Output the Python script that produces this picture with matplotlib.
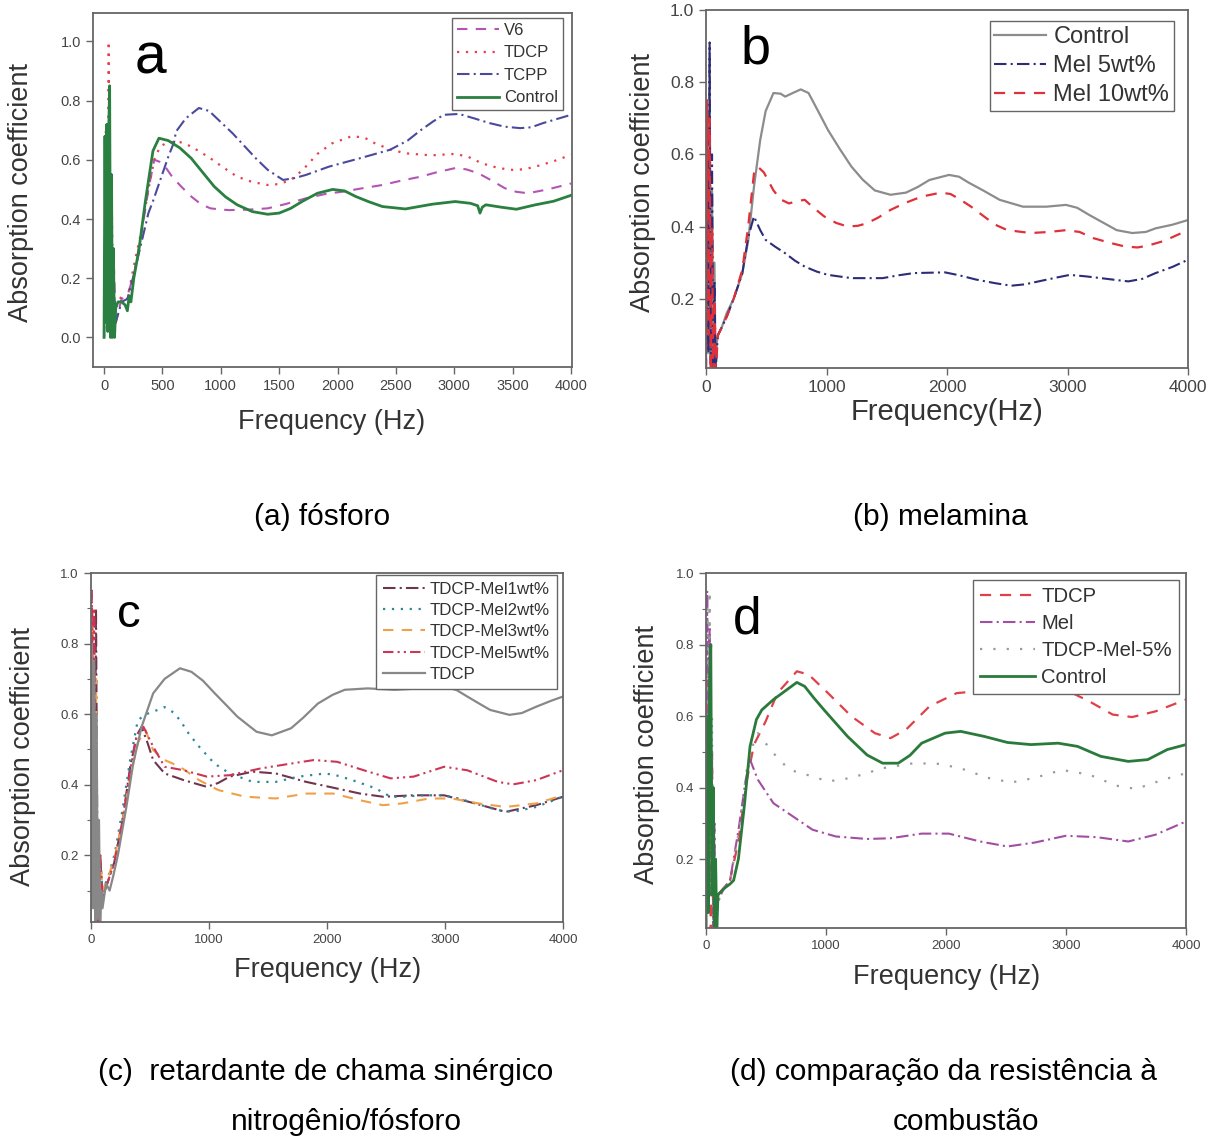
import numpy as np
import matplotlib
matplotlib.use('Agg')
import matplotlib.pyplot as plt
from matplotlib.ticker import MultipleLocator

plt.rcParams['font.family'] = ['Liberation Sans', 'DejaVu Sans']

W, H = 1221, 1138

#%% panel a - phosphorus flame retardants
a_v6_f = [0, 15, 30, 45, 60, 80, 100, 150, 200, 260, 320, 380, 430, 500, 583, 660, 747, 830, 911,
          1000, 1075, 1250, 1402, 1550, 1730, 1900, 2057, 2200, 2385, 2550, 2712, 2850, 3007, 3100,
          3204, 3320, 3433, 3530, 3630, 3800, 4000]
a_v6_y = [0.0, 0.6, 0.1, 0.75, 0.0, 0.3, 0.05, 0.13, 0.14, 0.22, 0.35, 0.5, 0.6, 0.59, 0.543, 0.51,
          0.476, 0.45, 0.436, 0.432, 0.43, 0.432, 0.436, 0.45, 0.47, 0.485, 0.493, 0.503, 0.515,
          0.53, 0.543, 0.558, 0.572, 0.568, 0.555, 0.53, 0.504, 0.492, 0.487, 0.5, 0.52]

a_tdcp_f = [0, 15, 30, 40, 50, 65, 80, 100, 150, 200, 260, 320, 380, 430, 480, 550, 650, 747, 830,
            911, 1000, 1140, 1270, 1402, 1500, 1599, 1700, 1828, 1950, 2123, 2230, 2319, 2450, 2581,
            2800, 3007, 3120, 3237, 3380, 3499, 3600, 3695, 3850, 4000]
a_tdcp_y = [0.0, 0.7, 0.2, 1.0, 0.1, 0.5, 0.0, 0.1, 0.14, 0.13, 0.25, 0.36, 0.5, 0.6, 0.645, 0.66,
            0.66, 0.645, 0.625, 0.605, 0.58, 0.543, 0.525, 0.515, 0.518, 0.532, 0.565, 0.62, 0.655,
            0.68, 0.675, 0.656, 0.635, 0.622, 0.615, 0.62, 0.61, 0.588, 0.572, 0.566, 0.568, 0.577,
            0.595, 0.617]

a_tcpp_f = [0, 15, 30, 45, 60, 80, 100, 150, 200, 260, 320, 380, 419, 480, 550, 600, 616, 700, 812,
            900, 1009, 1100, 1206, 1300, 1402, 1533, 1630, 1730, 1927, 2189, 2450, 2600, 2712, 2820,
            2909, 3040, 3170, 3302, 3430, 3564, 3660, 3760, 3880, 4000]
a_tcpp_y = [0.0, 0.5, 0.05, 0.85, 0.0, 0.2, 0.05, 0.12, 0.13, 0.22, 0.32, 0.42, 0.46, 0.53, 0.61,
            0.66, 0.695, 0.74, 0.775, 0.765, 0.724, 0.69, 0.645, 0.605, 0.566, 0.532, 0.538, 0.549,
            0.577, 0.605, 0.634, 0.665, 0.70, 0.73, 0.752, 0.755, 0.74, 0.724, 0.712, 0.707, 0.71,
            0.724, 0.738, 0.752]

a_ctrl_f = [0, 8, 16, 24, 32, 40, 48, 56, 64, 72, 80, 90, 100, 120, 150, 180, 200, 215, 230, 255,
            300, 354, 419, 470, 550, 650, 747, 850, 943, 1040, 1140, 1270, 1402, 1500, 1599, 1700,
            1828, 1959, 2060, 2156, 2270, 2385, 2581, 2810, 3007, 3138, 3200, 3220, 3240, 3270, 3400,
            3532, 3695, 3850, 4000]
a_ctrl_y = [0.0, 0.68, 0.05, 0.72, 0.02, 0.7, 0.85, 0.0, 0.55, 0.0, 0.3, 0.0, 0.1, 0.12, 0.12,
            0.11, 0.09, 0.14, 0.12, 0.2, 0.3, 0.46, 0.63, 0.673, 0.665, 0.64, 0.605, 0.555, 0.51,
            0.475, 0.448, 0.425, 0.416, 0.42, 0.436, 0.46, 0.487, 0.50, 0.495, 0.476, 0.458, 0.442,
            0.434, 0.45, 0.459, 0.453, 0.445, 0.42, 0.44, 0.448, 0.44, 0.433, 0.448, 0.46, 0.48]

#%% panel b - melamine
b_ctrl_f = [0, 10, 20, 30, 40, 50, 60, 70, 80, 90, 100, 130, 172, 230, 301, 350, 398, 450, 495, 560,
            620, 657, 720, 786, 851, 930, 1013, 1110, 1207, 1300, 1401, 1531, 1660, 1760, 1854, 2016,
            2100, 2178, 2300, 2437, 2631, 2825, 2987, 3080, 3181, 3300, 3408, 3537, 3650, 3731, 3870,
            4000]
b_ctrl_y = [0.0, 0.6, 0.05, 0.88, 0.02, 0.5, 0.0, 0.3, 0.0, 0.08, 0.1, 0.12, 0.16, 0.2, 0.27, 0.36,
            0.51, 0.64, 0.72, 0.77, 0.768, 0.76, 0.77, 0.78, 0.77, 0.72, 0.667, 0.615, 0.566, 0.53,
            0.50, 0.488, 0.494, 0.51, 0.529, 0.543, 0.538, 0.522, 0.50, 0.474, 0.455, 0.455, 0.46,
            0.452, 0.432, 0.41, 0.39, 0.382, 0.385, 0.395, 0.405, 0.418]

b_mel5_f = [0, 10, 20, 30, 40, 50, 60, 70, 80, 90, 100, 130, 172, 230, 301, 350, 398, 450, 495, 570,
            657, 740, 819, 920, 1013, 1207, 1466, 1600, 1725, 1983, 2100, 2242, 2400, 2533, 2650,
            2760, 2900, 3019, 3150, 3278, 3400, 3505, 3620, 3731, 3870, 4000]
b_mel5_y = [0.0, 0.5, 0.05, 0.91, 0.0, 0.6, 0.0, 0.25, 0.0, 0.06, 0.1, 0.12, 0.15, 0.2, 0.27, 0.37,
            0.428, 0.39, 0.363, 0.345, 0.326, 0.305, 0.289, 0.275, 0.266, 0.257, 0.257, 0.265, 0.271,
            0.273, 0.265, 0.253, 0.243, 0.236, 0.24, 0.248, 0.258, 0.266, 0.262, 0.257, 0.252,
            0.248, 0.255, 0.271, 0.288, 0.308]

b_mel10_f = [0, 10, 20, 30, 40, 50, 60, 70, 80, 90, 100, 130, 172, 230, 301, 350, 398, 430, 480,
             560, 620, 689, 750, 819, 900, 981, 1080, 1175, 1260, 1336, 1430, 1531, 1650, 1790,
             1951, 2030, 2113, 2200, 2307, 2400, 2501, 2695, 2850, 2987, 3100, 3213, 3350, 3472,
             3580, 3666, 3800, 4000]
b_mel10_y = [0.0, 0.75, 0.1, 0.7, 0.0, 0.4, 0.0, 0.2, 0.0, 0.05, 0.1, 0.12, 0.15, 0.2, 0.28, 0.4,
             0.547, 0.566, 0.55, 0.50, 0.475, 0.464, 0.47, 0.474, 0.45, 0.428, 0.41, 0.40, 0.402,
             0.409, 0.425, 0.446, 0.465, 0.483, 0.494, 0.49, 0.474, 0.455, 0.428, 0.405, 0.39,
             0.382, 0.385, 0.39, 0.385, 0.368, 0.355, 0.345, 0.342, 0.347, 0.36, 0.39]

#%% panel c - TDCP + melamine
c_mel1_f = [0, 15, 30, 45, 60, 80, 100, 150, 200, 270, 334, 390, 431, 480, 529, 626, 788, 983, 1080,
            1177, 1372, 1567, 1826, 2021, 2281, 2475, 2735, 2994, 3254, 3513, 3773, 4000]
c_mel1_y = [0.0, 0.7, 0.05, 0.9, 0.0, 0.2, 0.08, 0.13, 0.18, 0.3, 0.45, 0.54, 0.564, 0.52, 0.47,
            0.432, 0.413, 0.394, 0.405, 0.423, 0.437, 0.432, 0.408, 0.394, 0.375, 0.366, 0.37, 0.37,
            0.347, 0.323, 0.342, 0.366]

c_mel2_f = [0, 15, 30, 45, 60, 80, 100, 150, 204, 270, 334, 399, 470, 529, 626, 700, 756, 830, 918,
            1048, 1177, 1372, 1567, 1762, 1989, 2100, 2216, 2411, 2540, 2650, 2800, 2994, 3100, 3221,
            3448, 3578, 3773, 4000]
c_mel2_y = [0.0, 0.85, 0.1, 0.6, 0.0, 0.2, 0.1, 0.14, 0.205, 0.33, 0.47, 0.583, 0.6, 0.607, 0.62,
            0.605, 0.583, 0.545, 0.508, 0.46, 0.432, 0.408, 0.408, 0.423, 0.432, 0.425, 0.413, 0.39,
            0.366, 0.366, 0.37, 0.37, 0.362, 0.351, 0.328, 0.323, 0.337, 0.366]

c_mel3_f = [0, 15, 30, 45, 60, 80, 100, 150, 200, 270, 334, 400, 464, 529, 626, 756, 918, 1080,
            1307, 1567, 1826, 2054, 2281, 2475, 2637, 2865, 3059, 3286, 3513, 3773, 4000]
c_mel3_y = [0.0, 0.9, 0.1, 0.7, 0.0, 0.2, 0.1, 0.14, 0.19, 0.3, 0.42, 0.52, 0.555, 0.498, 0.47,
            0.451, 0.413, 0.385, 0.366, 0.361, 0.375, 0.375, 0.356, 0.342, 0.347, 0.361, 0.361,
            0.347, 0.337, 0.347, 0.37]

c_mel5_f = [0, 10, 20, 30, 45, 60, 80, 100, 150, 200, 270, 334, 390, 447, 529, 626, 788, 983, 1177,
            1437, 1697, 1891, 2086, 2313, 2540, 2735, 2994, 3189, 3448, 3578, 3773, 4000]
c_mel5_y = [0.0, 0.95, 0.3, 0.9, 0.1, 0.0, 0.2, 0.08, 0.13, 0.18, 0.3, 0.44, 0.54, 0.564, 0.508,
            0.451, 0.441, 0.423, 0.427, 0.446, 0.46, 0.47, 0.465, 0.441, 0.418, 0.423, 0.451, 0.441,
            0.408, 0.401, 0.413, 0.441]

c_tdcp_f = [0, 10, 20, 30, 40, 50, 60, 70, 80, 90, 100, 130, 160, 190, 230, 302, 360, 431, 529, 626,
            756, 853, 950, 1048, 1150, 1242, 1405, 1534, 1697, 1800, 1924, 2050, 2151, 2346, 2573,
            2800, 2994, 3100, 3189, 3290, 3383, 3546, 3650, 3773, 3900, 4000]
c_tdcp_y = [0.0, 0.8, 0.05, 0.75, 0.0, 0.6, 0.02, 0.3, 0.0, 0.1, 0.05, 0.12, 0.1, 0.14, 0.2, 0.337,
            0.46, 0.564, 0.659, 0.70, 0.73, 0.72, 0.695, 0.66, 0.625, 0.593, 0.55, 0.54, 0.56, 0.59,
            0.63, 0.655, 0.669, 0.673, 0.669, 0.673, 0.678, 0.668, 0.65, 0.63, 0.612, 0.598, 0.603,
            0.621, 0.638, 0.65]

#%% panel d - comparison
d_tdcp_f = [0, 10, 20, 30, 40, 50, 60, 70, 80, 90, 100, 150, 200, 270, 340, 400, 497, 595, 757, 855,
            1017, 1212, 1407, 1537, 1667, 1862, 2089, 2317, 2544, 2804, 2999, 3194, 3389, 3551, 3746,
            4000]
d_tdcp_y = [0.0, 0.7, 0.1, 0.75, 0.0, 0.5, 0.0, 0.2, 0.0, 0.05, 0.1, 0.12, 0.14, 0.25, 0.42, 0.52,
            0.585, 0.664, 0.725, 0.716, 0.664, 0.599, 0.552, 0.538, 0.562, 0.627, 0.664, 0.671,
            0.666, 0.678, 0.673, 0.641, 0.604, 0.597, 0.613, 0.646]

d_mel_f = [0, 10, 20, 30, 40, 50, 60, 70, 80, 90, 100, 150, 200, 270, 330, 367, 432, 562, 725, 887,
           1082, 1342, 1537, 1797, 2024, 2284, 2512, 2739, 2999, 3259, 3519, 3746, 4000]
d_mel_y = [0.0, 0.95, 0.2, 0.85, 0.1, 0.5, 0.0, 0.3, 0.0, 0.1, 0.08, 0.12, 0.14, 0.28, 0.42, 0.478,
           0.422, 0.356, 0.319, 0.282, 0.263, 0.256, 0.258, 0.271, 0.271, 0.249, 0.235, 0.246,
           0.265, 0.261, 0.249, 0.268, 0.305]

d_mix_f = [0, 10, 20, 30, 40, 50, 60, 70, 80, 90, 100, 150, 200, 270, 340, 400, 432, 562, 692, 887,
           1017, 1212, 1472, 1732, 1959, 2154, 2349, 2544, 2739, 2966, 3194, 3421, 3584, 3811, 4000]
d_mix_y = [0.0, 0.9, 0.3, 0.95, 0.1, 0.6, 0.0, 0.2, 0.0, 0.1, 0.08, 0.12, 0.14, 0.27, 0.45, 0.53,
           0.552, 0.496, 0.45, 0.431, 0.417, 0.427, 0.454, 0.468, 0.466, 0.45, 0.427, 0.414, 0.427,
           0.449, 0.436, 0.405, 0.396, 0.422, 0.44]

d_ctrl_f = [0, 10, 20, 30, 40, 50, 60, 70, 80, 90, 100, 130, 160, 200, 230, 270, 320, 367, 420, 465,
            562, 692, 757, 822, 900, 984, 1179, 1342, 1472, 1602, 1700, 1797, 1992, 2122, 2317, 2512,
            2707, 2934, 3096, 3291, 3519, 3681, 3843, 4000]
d_ctrl_y = [0.0, 0.6, 0.05, 0.7, 0.8, 0.1, 0.4, 0.0, 0.2, 0.0, 0.1, 0.11, 0.12, 0.13, 0.14, 0.2,
            0.35, 0.515, 0.59, 0.617, 0.646, 0.678, 0.694, 0.683, 0.65, 0.617, 0.543, 0.491, 0.468,
            0.468, 0.49, 0.524, 0.552, 0.557, 0.543, 0.526, 0.52, 0.524, 0.515, 0.487, 0.473,
            0.478, 0.506, 0.52]

#%% helpers
DASHED = (0, (5, 4))
DOTTED = (0, (1, 3))
DASHDOT = (0, (6, 2, 1, 2))
DASHDOTDOT = (0, (5, 2, 1, 2, 1, 2))


def px_rect(l, t, r, b):
    return [l / W, 1 - b / H, (r - l) / W, (b - t) / H]


def fig_text(fig, x, y, s, **kw):
    return fig.text(x / W, 1 - y / H, s, **kw)


def make_panel(fig, rect, xlim, ylim, xstep, yticks, tick_fs, minor_y=False):
    ax = fig.add_axes(px_rect(*rect))
    ax.set_xlim(*xlim)
    ax.set_ylim(*ylim)
    ax.xaxis.set_major_locator(MultipleLocator(xstep))
    ax.set_yticks(yticks)
    ax.set_yticklabels(['{:.1f}'.format(v) for v in yticks])
    if minor_y:
        ax.yaxis.set_minor_locator(MultipleLocator(0.1))
    ax.tick_params(direction='out', length=5, width=1, color='#666666',
                   labelcolor='#444444', labelsize=tick_fs)
    ax.tick_params(which='minor', direction='out', length=3, width=0.8, color='#666666')
    for sp in ax.spines.values():
        sp.set_color('#666666')
        sp.set_linewidth(1.3)
    return ax


def add_legend(ax, anchor, fs, ls, hl, bp=0.35):
    leg = ax.legend(loc='upper right', bbox_to_anchor=anchor, borderaxespad=0,
                    fontsize=fs, labelspacing=ls, handlelength=hl, handletextpad=0.3,
                    borderpad=bp, fancybox=False, framealpha=1, edgecolor='#666666',
                    labelcolor='#333333')
    leg.get_frame().set_linewidth(1.0)
    return leg


fig = plt.figure(figsize=(W / 100, H / 100), dpi=100)

#%% panel a
ax = make_panel(fig, (92.6, 13, 572, 367), (-98, 4008), (-0.10, 1.096), 500,
                [0.0, 0.2, 0.4, 0.6, 0.8, 1.0], 10.5)
ax.plot(a_v6_f, a_v6_y, color='#b455b4', lw=1.5, ls=DASHED, label='V6')
ax.plot(a_tdcp_f, a_tdcp_y, color='#e8404a', lw=1.6, ls=DOTTED, label='TDCP')
ax.plot(a_tcpp_f, a_tcpp_y, color='#4a4a9c', lw=1.5, ls=DASHDOT, label='TCPP')
ax.plot(a_ctrl_f, a_ctrl_y, color='#2a8040', lw=2.0, label='Control')
add_legend(ax, (0.981, 0.986), 12, 0.45, 2.5, bp=0.3)
fig_text(fig, 150, 73, 'a', fontsize=41, ha='center', va='baseline')
fig_text(fig, 21, 193, 'Absorption coefficient', fontsize=19.5, rotation=90,
         ha='center', va='center', color='#333333')
fig_text(fig, 332, 422, 'Frequency (Hz)', fontsize=19.5, ha='center', va='center',
         color='#333333')

#%% panel b
ax = make_panel(fig, (706, 10, 1188, 368), (0, 4000), (0.008, 1.0), 1000,
                [0.2, 0.4, 0.6, 0.8, 1.0], 12.5)
ax.plot(b_ctrl_f, b_ctrl_y, color='#8c8c8c', lw=1.6, label='Control')
ax.plot(b_mel5_f, b_mel5_y, color='#2c2c78', lw=1.5, ls=DASHDOT, label='Mel 5wt%')
ax.plot(b_mel10_f, b_mel10_y, color='#e0303a', lw=1.6, ls=DASHED, label='Mel 10wt%')
add_legend(ax, (0.971, 0.969), 17, 0.3, 2.2, bp=0.2)
fig_text(fig, 756, 64, 'b', fontsize=39, ha='center', va='baseline')
fig_text(fig, 643, 182, 'Absorption coefficient', fontsize=19.5, rotation=90,
         ha='center', va='center', color='#333333')
fig_text(fig, 947, 412, 'Frequency(Hz)', fontsize=21, ha='center', va='center',
         color='#333333')

#%% panel c
ax = make_panel(fig, (90.7, 573, 563, 922), (0, 4000), (0.011, 1.0), 1000,
                [0.2, 0.4, 0.6, 0.8, 1.0], 9.5, minor_y=True)
ax.plot(c_mel1_f, c_mel1_y, color='#70344e', lw=1.5, ls=DASHDOT, label='TDCP-Mel1wt%')
ax.plot(c_mel2_f, c_mel2_y, color='#2a8a9a', lw=1.6, ls=DOTTED, label='TDCP-Mel2wt%')
ax.plot(c_mel3_f, c_mel3_y, color='#f0a048', lw=1.5, ls=DASHED, label='TDCP-Mel3wt%')
ax.plot(c_mel5_f, c_mel5_y, color='#cc3556', lw=1.5, ls=DASHDOTDOT, label='TDCP-Mel5wt%')
ax.plot(c_tdcp_f, c_tdcp_y, color='#888888', lw=1.6, label='TDCP')
add_legend(ax, (0.987, 0.995), 12.2, 0.38, 2.5, bp=0.4)
fig_text(fig, 129, 627, 'c', fontsize=34, ha='center', va='baseline')
fig_text(fig, 23, 757, 'Absorption coefficient', fontsize=19.5, rotation=90,
         ha='center', va='center', color='#333333')
fig_text(fig, 328, 970, 'Frequency (Hz)', fontsize=19.5, ha='center', va='center',
         color='#333333')

#%% panel d
ax = make_panel(fig, (706, 573, 1186, 928), (0, 4000), (0.007, 1.0), 1000,
                [0.2, 0.4, 0.6, 0.8, 1.0], 9.5, minor_y=True)
ax.plot(d_tdcp_f, d_tdcp_y, color='#e04048', lw=1.6, ls=DASHED, label='TDCP')
ax.plot(d_mel_f, d_mel_y, color='#a24ea2', lw=1.5, ls=DASHDOT, label='Mel')
ax.plot(d_mix_f, d_mix_y, color='#9a9a9a', lw=1.6, ls=(0, (1, 5)), label='TDCP-Mel-5%')
ax.plot(d_ctrl_f, d_ctrl_y, color='#2a7a3c', lw=2.0, label='Control')
add_legend(ax, (0.985, 0.981), 14.6, 0.4, 2.7, bp=0.35)
fig_text(fig, 747, 633, 'd', fontsize=37, ha='center', va='baseline')
fig_text(fig, 647, 755, 'Absorption coefficient', fontsize=19.5, rotation=90,
         ha='center', va='center', color='#333333')
fig_text(fig, 947, 977, 'Frequency (Hz)', fontsize=19.5, ha='center', va='center',
         color='#333333')

#%% captions
cap_fs = 21.5
fig_text(fig, 322, 517, '(a) fósforo', fontsize=cap_fs, ha='center', va='center')
fig_text(fig, 940, 517, '(b) melamina', fontsize=cap_fs, ha='center', va='center')
fig_text(fig, 98, 1072, '(c)  retardante de chama sinérgico', fontsize=cap_fs,
         ha='left', va='center')
fig_text(fig, 346, 1122, 'nitrogênio/fósforo', fontsize=cap_fs, ha='center', va='center')
fig_text(fig, 730, 1072, '(d) comparação da resistência à', fontsize=cap_fs,
         ha='left', va='center')
fig_text(fig, 966, 1122, 'combustão', fontsize=cap_fs, ha='center', va='center')

plt.savefig('out.png', dpi=100)
